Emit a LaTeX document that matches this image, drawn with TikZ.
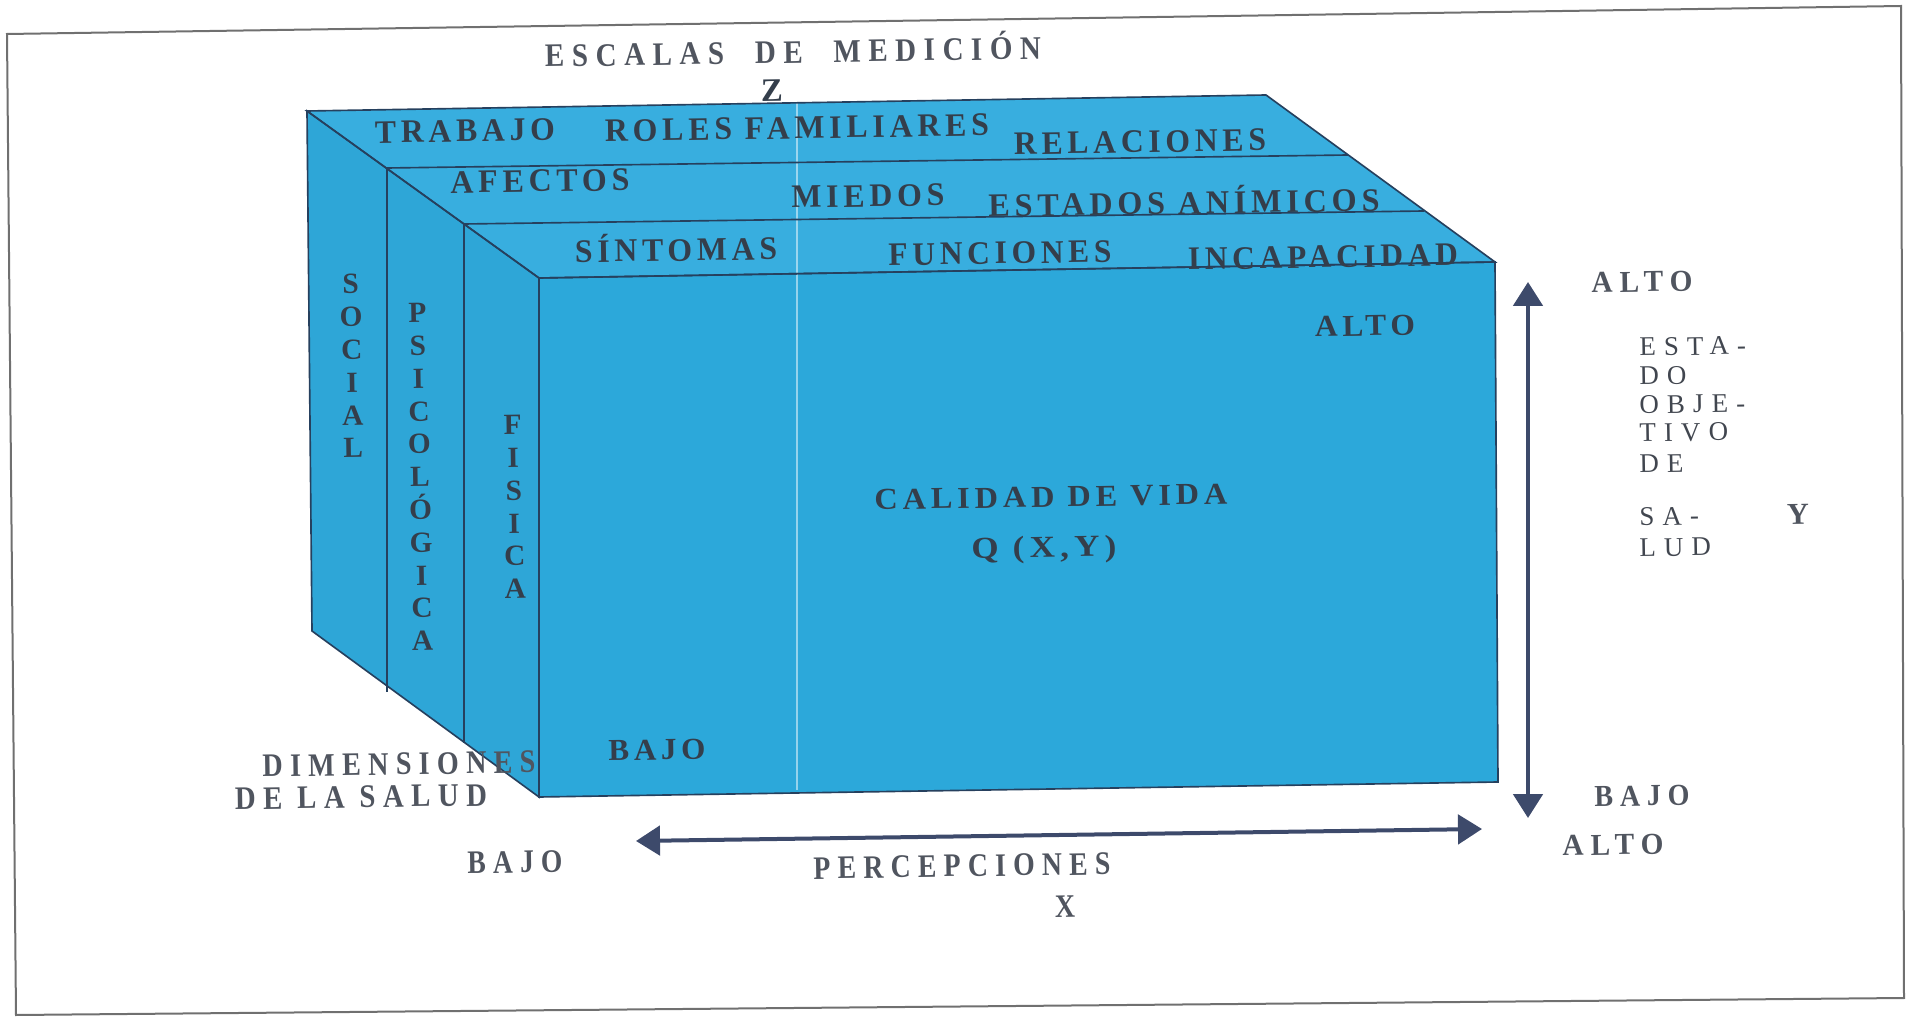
\documentclass[tikz,border=0pt]{standalone}
\usepackage{fontspec}
\usepackage{graphicx}
\usetikzlibrary{arrows.meta}
\setmainfont{Liberation Serif}
\newfontfamily\condfont{Liberation Serif}[LetterSpace=15]
\newfontfamily\outfont{Liberation Serif}[LetterSpace=22,FakeStretch=0.85]
\newfontfamily\widefont{Liberation Serif}[LetterSpace=24]
\newfontfamily\smallfont{Liberation Serif}[LetterSpace=30]
\newlength\pxu
\setlength\pxu{0.015cm}
\newcommand\fit[2]{\resizebox{#1\pxu}{\height}{#2}}
\definecolor{cubefront}{HTML}{2CA8DA}
\definecolor{cubetop}{HTML}{38AEDF}
\definecolor{cubeleft}{HTML}{2EA6D7}
\definecolor{edgec}{HTML}{26405E}
\definecolor{ink}{HTML}{343E4B}
\definecolor{grayink}{HTML}{50555F}
\definecolor{darkgray}{HTML}{41464F}
\definecolor{arrowc}{HTML}{3D4A6B}
\definecolor{framec}{HTML}{707070}
\tikzset{
  ct/.style={text=ink, font=\condfont\bfseries\fontsize{14}{16}\selectfont, inner sep=0pt, rotate=0.9},
  ft/.style={text=ink, font=\condfont\bfseries\fontsize{13}{15}\selectfont, inner sep=0pt, rotate=0.9},
  ot/.style={text=grayink, font=\outfont\bfseries\fontsize{14}{16}\selectfont, inner sep=0pt, rotate=0.9},
  wt/.style={text=grayink, font=\widefont\bfseries\fontsize{13}{15}\selectfont, inner sep=0pt, rotate=0.9},
  st/.style={text=darkgray, font=\smallfont\fontsize{11.5}{13}\selectfont, inner sep=0pt, anchor=west, rotate=0.9},
  vt/.style={text=ink, font=\widefont\bfseries\fontsize{12.5}{14}\selectfont, inner sep=0pt, align=center, rotate=0.9},
  face/.style={draw=edgec, line width=0.7pt, line join=miter},
  layer/.style={draw=edgec, line width=0.7pt},
  dbl/.style={draw=arrowc, line width=0.06cm, {Triangle[width=0.44cm,length=0.36cm]}-{Triangle[width=0.44cm,length=0.36cm]}}
}
\begin{document}
\begin{tikzpicture}[x=0.015cm,y=-0.015cm]
\useasboundingbox (0,0) rectangle (1909,1018);
% frame
\draw[framec, line width=0.03cm] (7,34) -- (1901,6) -- (1904,998) -- (16,1015) -- cycle;
% cube faces
\coordinate (btl) at (307,111);
\coordinate (btr) at (1266,95);
\coordinate (ftr) at (1495,262);
\coordinate (ftl) at (539,278);
\coordinate (fbl) at (539,797);
\coordinate (fbr) at (1498,782);
\coordinate (bbl) at (312,631);
\fill[cubetop] (btl) -- (btr) -- (ftr) -- (ftl) -- cycle;
\fill[cubeleft] (btl) -- (ftl) -- (fbl) -- (bbl) -- cycle;
\fill[cubefront] (ftl) -- (ftr) -- (fbr) -- (fbl) -- cycle;
% light scan line
\draw[white, opacity=0.5, line width=0.5pt] (797,103) -- (797,790);
\draw[face] (btl) -- (btr) -- (ftr) -- (ftl) -- cycle;
\draw[face] (btl) -- (ftl) -- (fbl) -- (bbl) -- cycle;
\draw[face] (ftl) -- (ftr) -- (fbr) -- (fbl) -- cycle;
% layers
\coordinate (l1a) at (387,168);
\coordinate (l1b) at (1348,155);
\coordinate (l2a) at (464,224);
\coordinate (l2b) at (1424,211);
\coordinate (v1b) at (387,692);
\coordinate (v2b) at (464,743);
\draw[layer] (l1a) -- (l1b);
\draw[layer] (l2a) -- (l2b);
\draw[layer] (l1a) -- (v1b);
\draw[layer] (l2a) -- (v2b);
% top labels
\node[ot] (escalas) at (793,49) {\fit{496}{ESCALAS\hspace{0.9em}DE\hspace{0.9em}MEDICIÓN}};
\node[ct] (z) at (772,91) {Z};
\node[ct] (trabajo) at (465,131) {\fit{180}{TRABAJO}};
\node[ct] (roles) at (797,128) {\fit{384}{ROLES FAMILIARES}};
\node[ct] (relac) at (1140,142) {\fit{252}{RELACIONES}};
\node[ct] (afectos) at (540,181) {\fit{179}{AFECTOS}};
\node[ct] (miedos) at (868,196) {\fit{153}{MIEDOS}};
\node[ct] (estados) at (1184,200) {\fit{391}{ESTADOS ANÍMICOS}};
\node[ct] (sintomas) at (676,247) {\fit{202}{SÍNTOMAS}};
\node[ct] (funciones) at (1000,253) {\fit{223}{FUNCIONES}};
\node[ct] (incap) at (1323,257) {\fit{270}{INCAPACIDAD}};
% front labels
\node[ft] (altoin) at (1365,326) {\fit{100}{ALTO}};
\node[ft] (calidad) at (1051,497) {\fit{353}{CALIDAD DE\hspace{0.4em}VIDA}};
\node[ft] (qxy) at (1044,550) {\fit{145}{Q (X,Y)}};
\node[ft] (bajoin) at (657,750) {\fit{97}{BAJO}};
% vertical labels
\node[vt] (social) at (352,366) {S\\O\\C\\I\\A\\L};
\node[vt] (psico) at (420,477) {P\\S\\I\\C\\O\\L\\Ó\\G\\I\\C\\A};
\node[vt] (fisica) at (514,507) {F\\I\\S\\I\\C\\A};
% outside labels
\node[ot] (dimen) at (399,764) {\fit{273}{DIMENSIONES}};
\node[ot] (delasalud) at (361,797) {\fit{252}{DE LA SALUD}};
\node[wt] (altor) at (1642,282) {\fit{101}{ALTO}};
\node[st] (e1) at (1639,347) {ESTA-};
\node[st] (e2) at (1639,376) {DO};
\node[st] (e3) at (1639,405) {OBJE-};
\node[st] (e4) at (1639,433) {TIVO};
\node[st] (e5) at (1639,464) {DE};
\node[st] (e6) at (1639,517) {SA-};
\node[st] (e7) at (1639,548) {LUD};
\node[wt] (ylab) at (1798,514) {Y};
\node[wt] (bajor) at (1642,796) {\fit{95}{BAJO}};
\node[wt] (altob) at (1613,845) {\fit{101}{ALTO}};
\node[ot] (bajol) at (515,862) {\fit{95}{BAJO}};
\node[ot] (percep) at (962,866) {\fit{297}{PERCEPCIONES}};
\node[ot] (xlab) at (1065,907) {X};
% axes arrows
\coordinate (vtop) at (1528,282);
\coordinate (vbot) at (1528,818);
\coordinate (hl) at (636,841);
\coordinate (hr) at (1482,829);
\draw[dbl] (vbot) -- (vtop);
\draw[dbl] (hl) -- (hr);
\end{tikzpicture}
\end{document}
